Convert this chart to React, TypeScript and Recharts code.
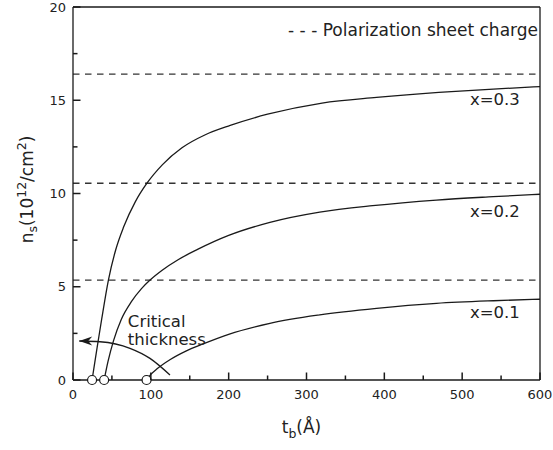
import React from 'react';
import { ComposedChart, Line, XAxis, YAxis, ReferenceLine, ReferenceDot, Label } from 'recharts';

const FONT = '"DejaVu Sans", Verdana, sans-serif';
const INK = '#1a1a1a';

// barrier thickness t_b (Å) and sheet density n_s (1e12 cm^-2)
const tX03 = [24.5, 28, 32, 37, 45.5, 55, 65, 80, 95, 115, 140, 170, 202, 250, 320, 390, 470, 540, 600];
const nX03 = [0, 0.95, 2.0, 3.3, 5.36, 7.0, 8.2, 9.55, 10.55, 11.55, 12.45, 13.15, 13.65, 14.25, 14.85, 15.15, 15.42, 15.6, 15.73];

const tX02 = [40, 45, 52, 62, 75, 88, 99, 115, 135, 160, 200, 253, 317, 385, 467, 540, 600];
const nX02 = [0, 1.0, 2.1, 3.25, 4.2, 4.9, 5.36, 5.9, 6.45, 7.0, 7.75, 8.45, 9.0, 9.35, 9.65, 9.83, 9.96];

const tX01 = [94.5, 100, 108, 125, 145, 168, 200, 253, 317, 390, 467, 540, 600];
const nX01 = [0, 0.3, 0.6, 1.1, 1.55, 1.95, 2.45, 3.04, 3.49, 3.84, 4.11, 4.25, 4.33];

const sheetCharge = [16.4, 10.55, 5.36];
const criticalThickness = [24.5, 40, 94.5];
const compositions = ['x=0.3', 'x=0.2', 'x=0.1'];
const compositionLabelY = [15.05, 9.07, 3.62];

// "Critical thickness" arrow
const arcT = [8, 34.7, 73.2, 98.9, 124.6];
const arcN = [2.09, 2.05, 1.7, 1.16, 0.27];

const xTicks = [0, 50, 100, 150, 200, 250, 300, 350, 400, 450, 500, 550, 600];
const yTicks = [0, 2.5, 5, 7.5, 10, 12.5, 15, 17.5, 20];

const zip = (t: number[], n: number[]) => t.map((v, i) => ({ t: v, n: n[i] }));

const curves = [zip(tX03, nX03), zip(tX02, nX02), zip(tX01, nX01)];
const arc = zip(arcT, arcN);

const TICK_W = 1.5;
const MAJOR = 7.5;
const MINOR = 4.5;

// ticks point inward
const BottomTick = (props: any) => {
  const { x, y, payload } = props;
  const major = payload.value % 100 === 0;
  const axisY = y - 10;
  return (
    <g>
      <line x1={x} y1={axisY} x2={x} y2={axisY - (major ? MAJOR : MINOR)} stroke={INK} strokeWidth={TICK_W} />
      {major && (
        <text x={x} y={y} dy="0.71em" textAnchor="middle" fontSize={13} fill="#222" fontFamily={FONT}>
          {payload.value}
        </text>
      )}
    </g>
  );
};

const TopTick = (props: any) => {
  const { x, y, payload } = props;
  const major = payload.value % 100 === 0;
  return <line x1={x} y1={y} x2={x} y2={y + (major ? MAJOR : MINOR)} stroke={INK} strokeWidth={TICK_W} />;
};

const LeftTick = (props: any) => {
  const { x, y, payload } = props;
  const major = payload.value % 5 === 0;
  const axisX = x + 7;
  return (
    <g>
      <line x1={axisX} y1={y} x2={axisX + (major ? MAJOR : MINOR)} y2={y} stroke={INK} strokeWidth={TICK_W} />
      {major && (
        <text x={x} y={y} dy="0.355em" textAnchor="end" fontSize={13} fill="#222" fontFamily={FONT}>
          {payload.value}
        </text>
      )}
    </g>
  );
};

const RightTick = (props: any) => {
  const { x, y, payload } = props;
  const major = payload.value % 5 === 0;
  return <line x1={x} y1={y} x2={x - (major ? MAJOR : MINOR)} y2={y} stroke={INK} strokeWidth={TICK_W} />;
};

const YTitle = (props: any) => {
  const { viewBox } = props;
  const cx = viewBox.x + 33;
  const cy = viewBox.y + viewBox.height / 2 - 4;
  return (
    <text transform={`translate(${cx},${cy}) rotate(-90)`} textAnchor="middle" fontSize={17} fill="#222" fontFamily={FONT}>
      n<tspan fontSize={12.5} dy={4}>s</tspan>
      <tspan dy={-4}>(10</tspan>
      <tspan fontSize={12.5} dy={-7}>12</tspan>
      <tspan dy={7}>/cm</tspan>
      <tspan fontSize={12.5} dy={-7}>2</tspan>
      <tspan dy={7}>)</tspan>
    </text>
  );
};

const XTitle = (props: any) => {
  const { viewBox } = props;
  const cx = viewBox.x + viewBox.width / 2 - 5;
  const cy = viewBox.y + 53;
  return (
    <text x={cx} y={cy} textAnchor="middle" fontSize={17} fill="#222" fontFamily={FONT}>
      t<tspan fontSize={12.5} dy={5}>b</tspan>
      <tspan dy={-5}>(Å)</tspan>
    </text>
  );
};

const TextAt = (text: string, anchor: string, dx: number, dy: number, size: number) => (props: any) => {
  const { viewBox } = props;
  return (
    <text x={viewBox.x + dx} y={viewBox.y + dy} textAnchor={anchor} fontSize={size} fill="#222" fontFamily={FONT}>
      {text}
    </text>
  );
};

const CriticalLabel = (props: any) => {
  const { viewBox } = props;
  return (
    <text x={viewBox.x} y={viewBox.y} fontSize={16.5} fill="#222" fontFamily={FONT}>
      <tspan x={viewBox.x}>Critical</tspan>
      <tspan x={viewBox.x} dy={18.5}>thickness</tspan>
    </text>
  );
};

const ArrowHead = (props: any) => {
  const { cx, cy, index } = props;
  if (index !== 0) return <g key={`a-${index}`} />;
  return (
    <polygon
      key="arrowhead"
      points={`${cx},${cy} ${cx + 13},${cy - 4.5} ${cx + 9},${cy} ${cx + 13},${cy + 4.5}`}
      fill={INK}
    />
  );
};

const App = () => {
  return (
    <div style={{ position: 'absolute', left: 0, top: 0 }}>
      <ComposedChart width={553} height={450} margin={{ top: 6, right: 12, bottom: 40, left: 0 }}>
        <XAxis
          dataKey="t"
          type="number"
          domain={[0, 600]}
          ticks={xTicks}
          interval={0}
          height={30}
          tickSize={0}
          tickMargin={10}
          tick={<BottomTick />}
          axisLine={{ stroke: INK, strokeWidth: 1.3 }}
          tickLine={false}
        >
          <Label content={<XTitle />} />
        </XAxis>
        <XAxis
          xAxisId="top"
          orientation="top"
          type="number"
          domain={[0, 600]}
          ticks={xTicks}
          interval={0}
          height={1}
          tickSize={0}
          tickMargin={0}
          tick={<TopTick />}
          axisLine={{ stroke: INK, strokeWidth: 1.3 }}
          tickLine={false}
        />
        <YAxis
          type="number"
          domain={[0, 20]}
          ticks={yTicks}
          interval={0}
          width={73}
          tickSize={0}
          tickMargin={7}
          tick={<LeftTick />}
          axisLine={{ stroke: INK, strokeWidth: 1.3 }}
          tickLine={false}
        >
          <Label content={<YTitle />} />
        </YAxis>
        <YAxis
          yAxisId="right"
          orientation="right"
          type="number"
          domain={[0, 20]}
          ticks={yTicks}
          interval={0}
          width={1}
          tickSize={0}
          tickMargin={0}
          tick={<RightTick />}
          axisLine={{ stroke: INK, strokeWidth: 1.3 }}
          tickLine={false}
        />

        {sheetCharge.map((v, i) => (
          <ReferenceLine key={`sc-${i}`} y={v} stroke="#333" strokeWidth={1.3} strokeDasharray="6.5 5.5" />
        ))}

        {curves.map((d, i) => (
          <Line
            key={`c-${i}`}
            data={d}
            dataKey="n"
            type="monotone"
            stroke={INK}
            strokeWidth={1.3}
            dot={false}
            activeDot={false}
            isAnimationActive={false}
          />
        ))}

        <Line
          data={arc}
          dataKey="n"
          type="monotone"
          stroke={INK}
          strokeWidth={1.3}
          dot={ArrowHead}
          activeDot={false}
          isAnimationActive={false}
        />

        {criticalThickness.map((t, i) => (
          <ReferenceDot key={`ct-${i}`} x={t} y={0} r={4.5} fill="#fff" stroke={INK} strokeWidth={1.2} />
        ))}

        {compositions.map((c, i) => (
          <ReferenceDot
            key={`lbl-${i}`}
            x={542}
            y={compositionLabelY[i]}
            r={0}
            fill="none"
            stroke="none"
            label={TextAt(c, 'middle', 0, 6, 16.5)}
          />
        ))}

        <ReferenceDot x={70.5} y={2.86} r={0} fill="none" stroke="none" label={<CriticalLabel />} />
        <ReferenceDot
          x={600}
          y={20}
          r={0}
          fill="none"
          stroke="none"
          label={TextAt('- - - Polarization sheet charge', 'end', -2, 29, 17)}
        />
      </ComposedChart>
    </div>
  );
};

export default App;
